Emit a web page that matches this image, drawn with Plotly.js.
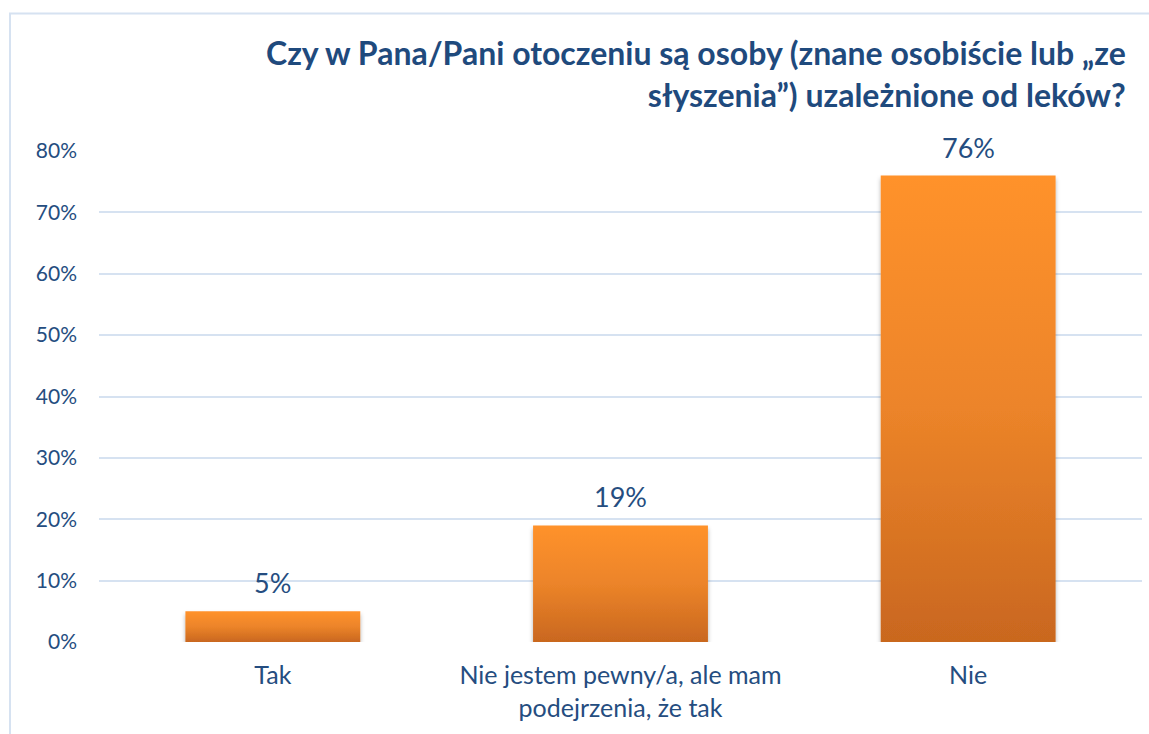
<!DOCTYPE html>
<html>
<head>
<meta charset="utf-8">
<script src="https://cdn.plot.ly/plotly-3.0.1.min.js"></script>
<style>
html,body{margin:0;padding:0;background:#fff;}
#chart{width:1149px;height:734px;}
</style>
</head>
<body>
<div id="chart"></div>
<script>
const categories = ["Tak", "Nie jestem pewny/a, ale mam<br>podejrzenia, że tak", "Nie"];
const values = [0.05, 0.19, 0.76];
const valueLabels = ["5%", "19%", "76%"];
const tickVals = [0, 0.1, 0.2, 0.3, 0.4, 0.5, 0.6, 0.7, 0.8];
const tickText = ["0%", "10%", "20%", "30%", "40%", "50%", "60%", "70%", "80%"];
const titleText = "Czy w Pana/Pani otoczeniu są osoby (znane osobiście lub „ze<br>słyszenia”) uzależnione od leków?";

const blue = "#254d80";
const font = "Lato, 'Open Sans', sans-serif";

const trace = {
  type: "bar",
  x: categories,
  y: values,
  marker: {color: "#e8822a", line: {width: 0}},
  hoverinfo: "skip"
};

const L = 99, R = 1142, T = 151, B = 642;
const pw = R - L, ph = B - T;
const px = v => (v - L) / pw;
const py = v => (B - v) / ph;

const annotations = categories.map((c, i) => ({
  x: c, y: values[i], xref: "x", yref: "y",
  text: valueLabels[i], showarrow: false,
  yanchor: "bottom", yshift: 10,
  font: {family: font, size: 27, color: blue}
}));
annotations.push({
  xref: "paper", yref: "paper",
  x: px(1128), y: py(31), xanchor: "right", yanchor: "top", align: "right",
  text: "<b>" + titleText + "</b>", showarrow: false,
  font: {family: font, size: 32, color: "#1f4a7d"}
});

const layout = {
  width: 1149, height: 734,
  margin: {l: L, r: 1149 - R, t: T, b: 734 - B},
  paper_bgcolor: "#ffffff", plot_bgcolor: "#ffffff",
  showlegend: false,
  bargap: 0.497,
  xaxis: {
    showgrid: false, zeroline: false, showline: false, ticks: "",
    tickfont: {family: font, size: 25, color: blue},
    ticklabelstandoff: 16,
    fixedrange: true
  },
  yaxis: {
    range: [0, 0.8],
    tickvals: tickVals, ticktext: tickText,
    showgrid: true, gridcolor: "#d6e2f1", gridwidth: 2,
    zeroline: false, showline: false, ticks: "",
    tickfont: {family: font, size: 21, color: blue},
    ticklabelstandoff: 21,
    fixedrange: true
  },
  annotations: annotations,
  shapes: [{
    type: "rect", xref: "paper", yref: "paper",
    x0: px(10), x1: px(1155), y0: py(760), y1: py(13.5),
    line: {color: "#d6e2f1", width: 2}, fillcolor: "rgba(0,0,0,0)", layer: "below"
  }]
};

Plotly.newPlot("chart", [trace], layout, {displayModeBar: false, staticPlot: true}).then(gd => {
  const svg = gd.querySelector("svg.main-svg");
  const ns = "http://www.w3.org/2000/svg";
  let defs = svg.querySelector("defs");
  if (!defs) { defs = document.createElementNS(ns, "defs"); svg.insertBefore(defs, svg.firstChild); }
  const g = document.createElementNS(ns, "linearGradient");
  g.setAttribute("id", "barGrad");
  g.setAttribute("x1", "0"); g.setAttribute("y1", "0");
  g.setAttribute("x2", "0"); g.setAttribute("y2", "1");
  [["0", "#ff922c"], ["0.5", "#ec8429"], ["1", "#c9671f"]].forEach(([o, c]) => {
    const s = document.createElementNS(ns, "stop");
    s.setAttribute("offset", o); s.setAttribute("stop-color", c);
    g.appendChild(s);
  });
  defs.appendChild(g);
  const f = document.createElementNS(ns, "filter");
  f.setAttribute("id", "barShadow");
  f.setAttribute("x", "-10%"); f.setAttribute("y", "-10%");
  f.setAttribute("width", "120%"); f.setAttribute("height", "130%");
  f.innerHTML = '<feDropShadow dx="0" dy="3" stdDeviation="2" flood-color="#000" flood-opacity="0.3"/>';
  defs.appendChild(f);
  gd.querySelectorAll(".bars .point path").forEach(p => {
    p.style.fill = "url(#barGrad)";
    p.style.filter = "url(#barShadow)";
  });
});
</script>
</body>
</html>
